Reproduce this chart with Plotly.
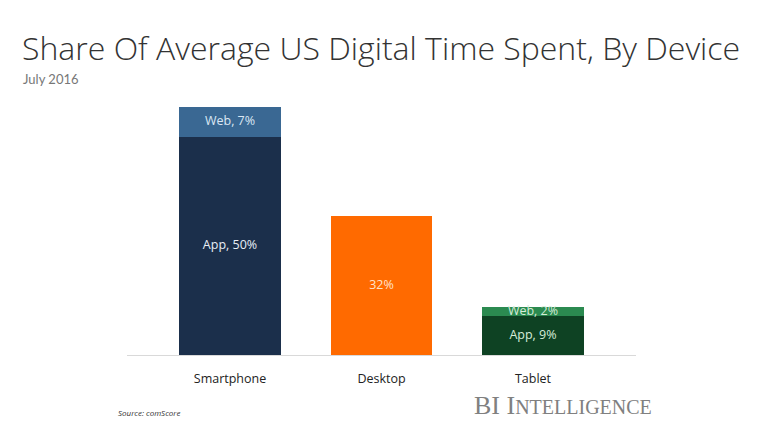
import plotly.graph_objects as go

devices = ["Smartphone", "Desktop", "Tablet"]
app_share = [50, 32, 9]
web_share = [7, 0, 2]
app_labels = ["App, 50%", "32%", "App, 9%"]
web_labels = ["Web, 7%", "", "Web, 2%"]
app_colors = ["#1b2f4b", "#ff6a00", "#0e4223"]
web_colors = ["#3a6893", "#ff6a00", "#2b8a50"]
app_text_colors = ["#e8eef6", "#ffe3cc", "#d6ecd9"]
web_text_colors = ["#dbe7f3", "#ffffff", "#d6ecd9"]

fig = go.Figure()
fig.add_trace(go.Bar(x=devices, y=app_share, marker=dict(color=app_colors, line=dict(width=0)),
                     width=0.67, hoverinfo="skip"))
fig.add_trace(go.Bar(x=devices, y=web_share, marker=dict(color=web_colors, line=dict(width=0)),
                     width=0.67, hoverinfo="skip"))

app_mid = [a / 2 for a in app_share]
web_mid = [a + w / 2 for a, w in zip(app_share, web_share)]
fig.add_trace(go.Scatter(x=devices, y=app_mid, mode="text", text=app_labels,
                         textfont=dict(family="Open Sans", size=12.5, color=app_text_colors),
                         hoverinfo="skip"))
fig.add_trace(go.Scatter(x=devices, y=web_mid, mode="text", text=web_labels,
                         textfont=dict(family="Open Sans", size=12.5, color=web_text_colors),
                         hoverinfo="skip"))

fig.update_layout(
    width=768, height=432, barmode="stack", showlegend=False,
    paper_bgcolor="white", plot_bgcolor="white",
    margin=dict(l=127, r=132, t=100, b=77),
    bargap=0.33,
    xaxis=dict(range=[-0.68, 2.68], showgrid=False, showline=True, linecolor="#d9d9d9",
               linewidth=1, ticks="outside", ticklen=12, tickcolor="rgba(0,0,0,0)",
               tickfont=dict(family="Open Sans", size=12.5, color="#222"),
               fixedrange=True),
    yaxis=dict(range=[0, 58.6], showgrid=False, showticklabels=False, zeroline=False,
               showline=False, fixedrange=True),
    annotations=[
        dict(text="Share Of Average US Digital Time Spent, By Device", xref="paper", yref="paper",
             x=(20 - 127) / 509, y=(355 - 47) / 255, xanchor="left", yanchor="middle",
             showarrow=False, font=dict(family="Open Sans", size=32, weight=300, color="#333")),
        dict(text="July 2016", xref="paper", yref="paper",
             x=(21 - 127) / 509, y=(355 - 79) / 255, xanchor="left", yanchor="middle",
             showarrow=False, font=dict(family="Lato", size=13, color="#777")),
        dict(text="<i>Source: comScore</i>", xref="paper", yref="paper",
             x=(116 - 127) / 509, y=(355 - 412) / 255, xanchor="left", yanchor="middle",
             showarrow=False, font=dict(family="Open Sans", size=8, color="#333")),
        dict(text="BI I<span style='font-size:20px'>NTELLIGENCE</span>", xref="paper", yref="paper",
             x=(472 - 127) / 509, y=(355 - 405) / 255, xanchor="left", yanchor="middle",
             showarrow=False, font=dict(family="Liberation Serif", size=26, color="#808080")),
    ],
)

fig.write_html("out.html")
